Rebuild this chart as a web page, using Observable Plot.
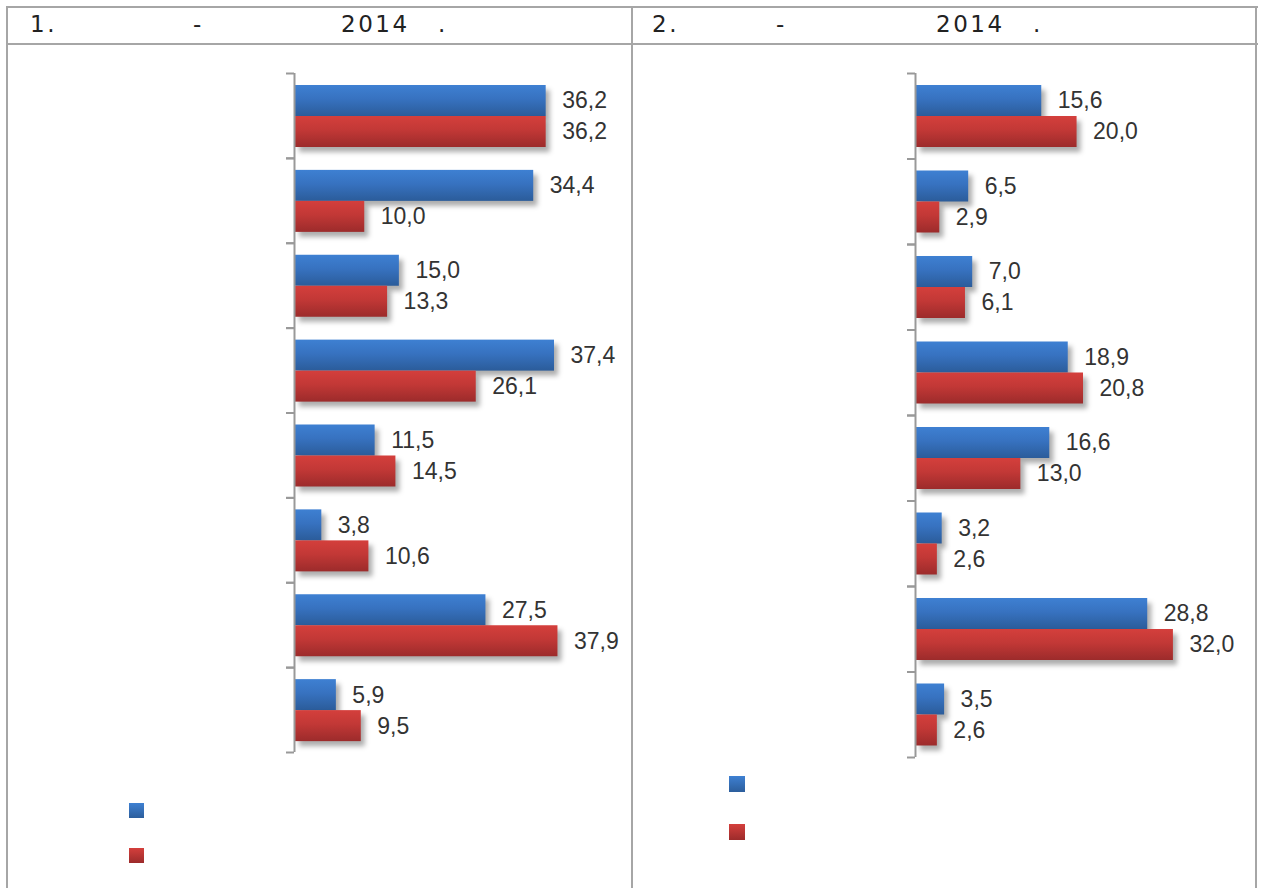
<!DOCTYPE html>
<html><head><meta charset="utf-8">
<script src="https://cdn.jsdelivr.net/npm/d3@7"></script>
<script src="https://cdn.jsdelivr.net/npm/@observablehq/plot@0.6"></script>
<style>
body{margin:0;background:#fff;}
#page{position:relative;width:1262px;height:888px;overflow:hidden;background:#fff;}
.ln{position:absolute;background:#a6a6a6;}
.t{position:absolute;top:10px;font-family:"DejaVu Sans",sans-serif;font-size:23px;line-height:28px;letter-spacing:2.5px;color:#222;white-space:pre;}
.chart{position:absolute;}
.chart svg{display:block;max-width:none;}
.chart g[aria-label="bar"] rect{filter:drop-shadow(4px 5px 2.5px rgba(0,0,0,0.32));}
.sw{position:absolute;width:15px;height:15px;}
.sw.b{background:linear-gradient(#3e80d2,#2c5e9c);}
.sw.r{background:linear-gradient(#d43f3c,#9c2b2b);}
</style></head>
<body>
<svg width="0" height="0" style="position:absolute">
  <defs>
    <linearGradient id="gBlue" x1="0" y1="0" x2="0" y2="1">
      <stop offset="0" stop-color="#3e80d2"/><stop offset="0.45" stop-color="#3772c0"/><stop offset="1" stop-color="#2b5c9a"/>
    </linearGradient>
    <linearGradient id="gRed" x1="0" y1="0" x2="0" y2="1">
      <stop offset="0" stop-color="#d43f3c"/><stop offset="0.45" stop-color="#c23836"/><stop offset="1" stop-color="#9c2b2b"/>
    </linearGradient>
  </defs>
</svg>
<div id="page">
  <div class="ln" style="left:6px;top:6px;width:1252px;height:2px"></div>
  <div class="ln" style="left:6px;top:43px;width:1252px;height:2px"></div>
  <div class="ln" style="left:6px;top:6px;width:2px;height:882px"></div>
  <div class="ln" style="left:631px;top:6px;width:2px;height:882px"></div>
  <div class="ln" style="left:1255px;top:6px;width:2px;height:882px"></div>
  <div class="t" style="left:30px">1.</div>
  <div class="t" style="left:193px">-</div>
  <div class="t" style="left:341px">2014</div>
  <div class="t" style="left:438px">.</div>
  <div class="t" style="left:652px">2.</div>
  <div class="t" style="left:776px">-</div>
  <div class="t" style="left:936px">2014</div>
  <div class="t" style="left:1033px">.</div>
  <div id="c1" class="chart" style="left:10px;top:47px"></div>
  <div id="c2" class="chart" style="left:634px;top:47px"></div>
  <div class="sw b" style="left:129px;top:803px"></div>
  <div class="sw r" style="left:129px;top:848px"></div>
  <div class="sw b" style="left:729px;top:776px;width:16px;height:16px"></div>
  <div class="sw r" style="left:729px;top:824px;width:16px;height:16px"></div>
</div>
<script>
const categories = ["1","2","3","4","5","6","7","8"];
const blue1 = [36.2, 34.4, 15.0, 37.4, 11.5, 3.8, 27.5, 5.9];
const red1  = [36.2, 10.0, 13.3, 26.1, 14.5, 10.6, 37.9, 9.5];
const blue2 = [15.6, 6.5, 7.0, 18.9, 16.6, 3.2, 28.8, 3.5];
const red2  = [20.0, 2.9, 6.1, 20.8, 13.0, 2.6, 32.0, 2.6];

const fmt = v => v.toFixed(1).replace(".", ",");

function chart(blue, red, xmax, opts) {
  const {width, height, marginLeft, marginRight, marginTop, marginBottom} = opts;
  const rows = categories.map((c, i) => ({cat: c, blue: blue[i], red: red[i]}));
  const plotH = height - marginTop - marginBottom;
  const bw = plotH / categories.length;
  const plotW = width - marginLeft - marginRight;
  const tickU = 8 * xmax / plotW;
  const lab = {fontSize: 23, fontFamily: "'Liberation Sans', sans-serif", fill: "#333", textAnchor: "start", dx: 16};
  return Plot.plot({
    width, height, marginLeft, marginRight, marginTop, marginBottom,
    style: {background: "transparent", overflow: "visible"},
    x: {domain: [0, xmax], axis: null},
    y: {type: "band", domain: categories, padding: 0, round: false, axis: null},
    marks: [
      Plot.barX(rows, {y: "cat", x: "blue", fill: "url(#gBlue)", insetTop: 12, insetBottom: bw - 43}),
      Plot.barX(rows, {y: "cat", x: "red", fill: "url(#gRed)", insetTop: 43, insetBottom: bw - 74}),
      Plot.ruleX([0], {stroke: "#999", strokeWidth: 2, dx: -1}),
      Plot.ruleY(rows, {y: "cat", x1: -tickU, x2: 0, dx: -1, dy: -bw / 2, stroke: "#999", strokeWidth: 2}),
      Plot.ruleY(rows, {y: "cat", x1: -tickU, x2: 0, dx: -1, dy: bw / 2, stroke: "#999", strokeWidth: 2}),
      Plot.text(rows, {y: "cat", x: "blue", text: d => fmt(d.blue), dy: 27.5 - bw / 2, ...lab}),
      Plot.text(rows, {y: "cat", x: "red", text: d => fmt(d.red), dy: 58.5 - bw / 2, ...lab})
    ]
  });
}

document.getElementById("c1").append(chart(blue1, red1, 40, {width: 620, height: 720, marginLeft: 285, marginRight: 58, marginTop: 26, marginBottom: 15}));
document.getElementById("c2").append(chart(blue2, red2, 35, {width: 620, height: 720, marginLeft: 282, marginRight: 57, marginTop: 26, marginBottom: 10}));
</script>
</body></html>
